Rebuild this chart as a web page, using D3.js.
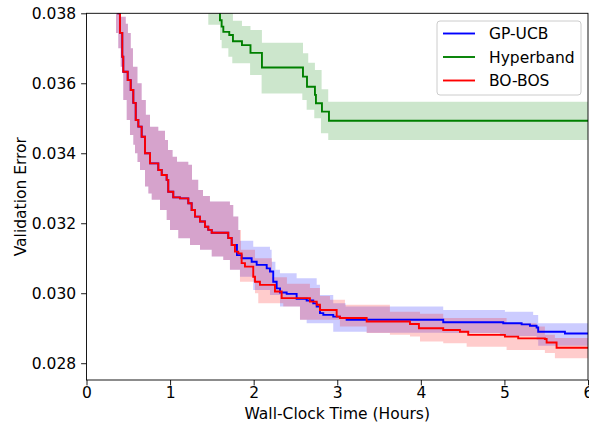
<!DOCTYPE html>
<html>
<head>
<meta charset="utf-8">
<script src="https://cdn.jsdelivr.net/npm/d3@7"></script>
<style>
  html, body { margin: 0; padding: 0; background: #fff; }
  svg { display: block; font-family: "DejaVu Sans", sans-serif; }
</style>
</head>
<body>
<svg id="chart" width="589" height="429"></svg>
<script>
// ---------------- data ----------------
const xTicks = [0, 1, 2, 3, 4, 5, 6];
const yTicks = [0.028, 0.030, 0.032, 0.034, 0.036, 0.038];
const legendLabels = ["GP-UCB", "Hyperband", "BO-BOS"];

// shared early part of GP-UCB / BO-BOS (identical runs at start) [hours, error]
const sharedMean = [[0.305,0.0398],[0.380,0.0380],[0.401,0.03744],[0.428,0.03676],[0.440,0.03633],[0.493,0.03609],[0.529,0.03581],[0.560,0.03544],[0.589,0.03495],[0.620,0.03476],[0.660,0.03447],[0.700,0.0340],[0.760,0.03371],[0.859,0.03352],[0.900,0.03338],[0.959,0.03324],[0.978,0.03290],[1.038,0.03274],[1.118,0.03271],[1.218,0.03257],[1.258,0.03238],[1.298,0.03219],[1.358,0.03205],[1.417,0.03190],[1.457,0.03181],[1.498,0.03173],[1.696,0.03158],[1.737,0.03138]];
const sharedHi = [[0.30,0.0400],[0.413,0.0379],[0.470,0.03770],[0.496,0.03744],[0.530,0.03700],[0.556,0.03647],[0.610,0.03600],[0.660,0.03552],[0.710,0.03510],[0.760,0.03476],[0.859,0.03464],[0.939,0.03438],[0.975,0.03409],[1.030,0.03390],[1.083,0.03376],[1.218,0.03367],[1.262,0.03324],[1.337,0.03295],[1.394,0.03278],[1.477,0.03262],[1.716,0.03252],[1.756,0.03219],[1.816,0.03181]];
const sharedLo = [[0.25,0.0400],[0.341,0.0380],[0.353,0.03744],[0.380,0.03700],[0.409,0.03647],[0.440,0.03552],[0.481,0.03495],[0.520,0.03452],[0.560,0.03424],[0.580,0.0340],[0.610,0.03375],[0.640,0.03352],[0.700,0.03305],[0.740,0.03285],[0.780,0.03267],[0.879,0.03238],[0.959,0.03209],[0.999,0.03181],[1.098,0.03157],[1.238,0.03138],[1.358,0.03124],[1.498,0.03105],[1.636,0.03095],[1.716,0.03067]];

// GP-UCB tails
const gpucbMeanTail = [[1.800,0.03109],[1.856,0.0310],[1.976,0.03090],[2.036,0.03081],[2.156,0.03071],[2.195,0.03062],[2.234,0.03033],[2.275,0.03014],[2.315,0.03002],[2.395,0.02998],[2.514,0.02984],[2.634,0.02979],[2.713,0.02971],[2.754,0.02962],[2.793,0.02943],[2.833,0.02938],[2.952,0.02933],[3.032,0.02929],[3.112,0.02924],[4.268,0.02917],[4.986,0.02914],[5.206,0.02911],[5.305,0.02907],[5.385,0.02902],[5.404,0.02890],[5.724,0.02885],[6.0,0.02885]];
const gpucbHiTail = [[1.836,0.03150],[1.995,0.03133],[2.195,0.03124],[2.215,0.03090],[2.260,0.03067],[2.315,0.03057],[2.514,0.03043],[2.754,0.03024],[2.793,0.02995],[2.952,0.02971],[3.100,0.02962],[4.268,0.02952],[5.006,0.02947],[5.344,0.02938],[5.404,0.02914],[6.0,0.02912]];
const gpucbLoTail = [[1.836,0.03047],[1.995,0.03009],[2.195,0.02995],[2.315,0.02962],[2.554,0.02924],[2.634,0.02914],[2.952,0.0289],[3.352,0.02887],[4.268,0.02886],[4.946,0.02878],[5.385,0.02867],[5.404,0.02850],[6.0,0.02847]];

// BO-BOS tails
const bobosMeanTail = [[1.776,0.03119],[1.816,0.03114],[1.856,0.03086],[1.896,0.03076],[1.995,0.03047],[2.016,0.03033],[2.075,0.03024],[2.255,0.03005],[2.335,0.02986],[2.673,0.02976],[2.754,0.02967],[2.793,0.02952],[2.993,0.02933],[3.032,0.02929],[3.352,0.02919],[3.870,0.02912],[3.977,0.02900],[4.268,0.02895],[4.468,0.02890],[4.567,0.02881],[5.006,0.02876],[5.165,0.02871],[5.484,0.02869],[5.505,0.02859],[5.624,0.02844],[6.0,0.02844]];
const bobosHiTail = [[1.848,0.03124],[2.016,0.0310],[2.219,0.03046],[2.398,0.03027],[2.673,0.03015],[2.793,0.02992],[2.913,0.02981],[3.092,0.02967],[3.630,0.02947],[3.990,0.02941],[4.268,0.02929],[5.026,0.02914],[5.385,0.02905],[5.484,0.02881],[5.604,0.02872],[6.0,0.02872]];
const bobosLoTail = [[1.836,0.03033],[2.016,0.0300],[2.055,0.02971],[2.354,0.02962],[2.554,0.02924],[3.032,0.02905],[3.352,0.02886],[3.630,0.02881],[3.870,0.02876],[3.990,0.02862],[4.268,0.02857],[4.548,0.02847],[5.026,0.02838],[5.484,0.02829],[5.604,0.02814],[6.0,0.02814]];

// Hyperband
const hyperbandMean = [[1.50,0.0390],[1.597,0.0378],[1.617,0.03762],[1.637,0.03747],[1.708,0.03738],[1.752,0.0372],[1.860,0.03709],[1.962,0.03687],[2.099,0.03645],[2.590,0.03619],[2.638,0.0359],[2.733,0.03567],[2.745,0.03543],[2.817,0.03519],[2.901,0.03493],[6.0,0.03493]];
const hyperbandHi = [[1.40,0.0400],[1.752,0.03779],[1.860,0.03764],[1.962,0.03752],[2.099,0.03716],[2.590,0.03686],[2.653,0.03659],[2.733,0.03638],[2.813,0.03583],[2.892,0.03547],[6.0,0.03547]];
const hyperbandLo = [[1.30,0.0395],[1.457,0.03767],[1.597,0.03724],[1.617,0.0370],[1.697,0.03676],[1.744,0.03657],[1.957,0.03624],[2.095,0.03571],[2.582,0.03552],[2.634,0.03524],[2.725,0.0350],[2.805,0.03457],[2.892,0.03438],[6.0,0.03438]];

const colors = { gpucb: "#0000ff", hyperband: "#008000", bobos: "#ff0000" };

// ---------------- layout ----------------
const svg = d3.select("#chart");
const L = 86.5, R = 588, T = 13.3, B = 380;
const x = d3.scaleLinear().domain([0, 6]).range([L, R]);
const y = d3.scaleLinear().domain([0.02752, 0.038]).range([B, T]);

const series = [
  { key: "gpucb", mean: sharedMean.concat(gpucbMeanTail), hi: sharedHi.concat(gpucbHiTail), lo: sharedLo.concat(gpucbLoTail) },
  { key: "hyperband", mean: hyperbandMean, hi: hyperbandHi, lo: hyperbandLo },
  { key: "bobos", mean: sharedMean.concat(bobosMeanTail), hi: sharedHi.concat(bobosHiTail), lo: sharedLo.concat(bobosLoTail) }
];

svg.append("defs").append("clipPath").attr("id", "clip")
  .append("rect").attr("x", L).attr("y", T).attr("width", R - L).attr("height", B - T);

const plot = svg.append("g").attr("clip-path", "url(#clip)");

function stepPts(arr) {
  const out = [];
  for (let i = 0; i < arr.length; i++) {
    out.push(arr[i]);
    if (i < arr.length - 1) out.push([arr[i + 1][0], arr[i][1]]);
  }
  return out;
}
const poly = d3.line().x(d => x(d[0])).y(d => y(d[1]));
const stepLine = d3.line().x(d => x(d[0])).y(d => y(d[1])).curve(d3.curveStepAfter);

// fills first (below lines)
series.forEach(s => {
  const pts = stepPts(s.hi).concat(stepPts(s.lo).reverse());
  plot.append("path").attr("d", poly(pts) + "Z")
    .attr("fill", colors[s.key]).attr("fill-opacity", 0.2).attr("stroke", "none");
});
series.forEach(s => {
  plot.append("path").attr("d", stepLine(s.mean))
    .attr("fill", "none").attr("stroke", colors[s.key]).attr("stroke-width", 1.9);
});

// axes
const xAxis = svg.append("g").attr("transform", `translate(0,${B})`)
  .call(d3.axisBottom(x).tickValues(xTicks).tickFormat(d3.format("d")).tickSize(5.4).tickPadding(2));
const yAxis = svg.append("g").attr("transform", `translate(${L},0)`)
  .call(d3.axisLeft(y).tickValues(yTicks).tickFormat(d3.format(".3f")).tickSize(5.4).tickPadding(5));
[xAxis, yAxis].forEach(a => {
  a.select(".domain").remove();
  a.selectAll("line").attr("stroke", "#000").attr("stroke-width", 0.9);
  a.selectAll("text").attr("font-family", "DejaVu Sans").attr("font-size", "15.5px").attr("fill", "#000");
});

// frame
svg.append("rect").attr("x", L).attr("y", T).attr("width", R - L).attr("height", B - T)
  .attr("fill", "none").attr("stroke", "#000").attr("stroke-width", 0.9);

svg.append("text").attr("x", (L + R) / 2).attr("y", 419)
  .attr("text-anchor", "middle").attr("font-size", "15.5px").attr("fill", "#000")
  .text("Wall-Clock Time (Hours)");
svg.append("text").attr("transform", `translate(26,${(T + B) / 2}) rotate(-90)`)
  .attr("text-anchor", "middle").attr("font-size", "15.5px").attr("fill", "#000")
  .text("Validation Error");

// legend
const lg = svg.append("g");
lg.append("rect").attr("x", 437).attr("y", 21).attr("width", 144).attr("height", 74)
  .attr("rx", 3).attr("fill", "#fff").attr("fill-opacity", 0.8).attr("stroke", "#cccccc").attr("stroke-width", 1);
const keys = ["gpucb", "hyperband", "bobos"];
legendLabels.forEach((lab, i) => {
  const yy = 33.5 + i * 23.5;
  lg.append("line").attr("x1", 443).attr("x2", 475).attr("y1", yy).attr("y2", yy)
    .attr("stroke", colors[keys[i]]).attr("stroke-width", 1.9);
  lg.append("text").attr("x", 489).attr("y", yy + 5.5).attr("font-size", "15.5px").attr("fill", "#000").text(lab);
});
</script>
</body>
</html>
